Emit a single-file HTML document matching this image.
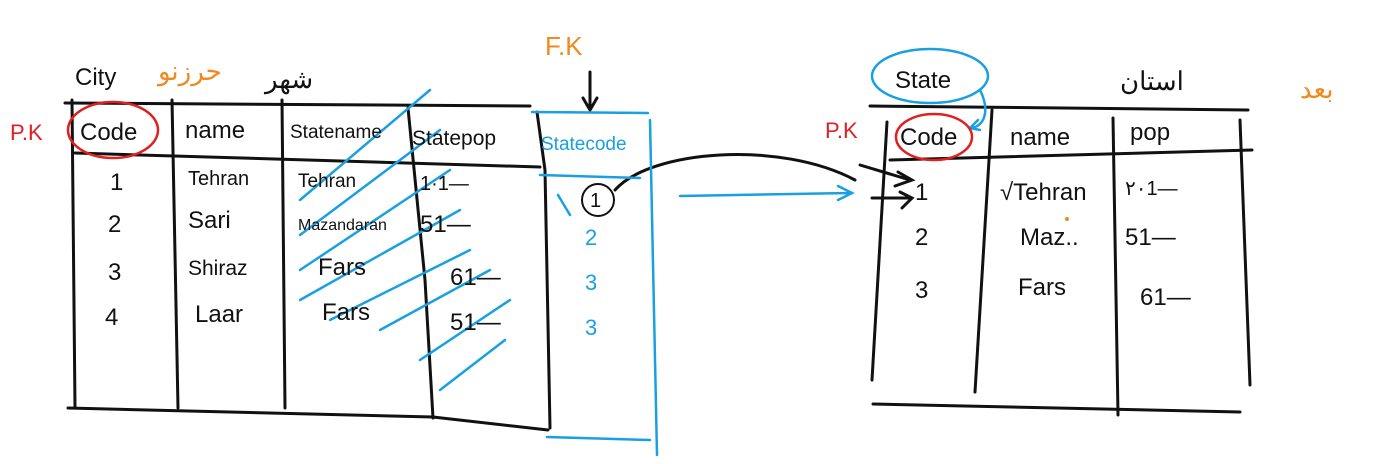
<!DOCTYPE html>
<html><head><meta charset="utf-8"><style>
html,body{margin:0;padding:0;background:#fff;width:1383px;height:464px;overflow:hidden}
svg text{font-family:"Liberation Sans","Noto Sans CJK SC",sans-serif}
</style></head><body>
<svg width="1383" height="464" viewBox="0 0 1383 464" xmlns="http://www.w3.org/2000/svg">
<g stroke="#111" stroke-width="3" fill="none" stroke-linecap="round">
<!-- left table -->
<path d="M65 103 L530 106"/>
<path d="M72 100 L75 408"/>
<path d="M172 100 L178 408"/>
<path d="M282 100 L285 408"/>
<path d="M408 108 L425 280 L433 418"/>
<path d="M537 112 L545 170 L550 428"/>
<path d="M75 153 L540 167"/>
<path d="M68 408 L433 417 L548 430"/>
<!-- right table -->
<path d="M870 106 L1248 110"/>
<path d="M887 122 L872 380"/>
<path d="M992 110 L975 392"/>
<path d="M1113 118 L1118 415"/>
<path d="M1240 120 L1250 385"/>
<path d="M890 160 L1252 150"/>
<path d="M873 404 L1240 412"/>
<!-- arrow down FK -->
<path d="M590 72 L590 108 M583 98 L590 110 L597 98"/>
<!-- connector curve -->
<path d="M615 190 C650 150 780 140 855 180"/>
<path d="M860 165 L910 180 M898 172 L912 180 L895 186"/>
<path d="M872 198 L910 198 M900 192 L912 198 L902 208"/>
</g>
<g stroke="#1aa0e0" stroke-width="2.5" fill="none" stroke-linecap="round">
<path d="M532 112 L648 113 M650 120 L657 455 M540 175 L640 178 M547 437 L650 440"/>
<path d="M558 195 L570 215"/>
<path d="M680 196 L850 193 M838 186 L852 193 L838 200"/>
<path d="M300 200 L430 90 M300 235 L440 130 M300 270 L450 170 M300 300 L460 210 M330 320 L470 250 M380 330 L490 270 M420 360 L510 300 M440 390 L505 340"/>
<ellipse cx="930" cy="76" rx="58" ry="27"/>
<path d="M980 90 C990 110 985 125 972 128 M978 120 L970 128 L980 130"/>
</g>
<g stroke="#e02020" stroke-width="2.5" fill="none">
<ellipse cx="113" cy="130" rx="45" ry="28"/>
<ellipse cx="934" cy="137" rx="38" ry="23"/>
</g>
<g stroke="#111" stroke-width="2" fill="none"><circle cx="598" cy="200" r="16"/></g>
<g font-size="24" fill="#111">
<text x="75" y="85">City</text>
<text x="265" y="88" font-size="26">شهر</text>
<text x="80" y="140">Code</text><text x="185" y="138">name</text>
<text x="290" y="138" font-size="19">Statename</text><text x="412" y="145" font-size="21">Statepop</text>
<text x="110" y="190">1</text><text x="188" y="185" font-size="20">Tehran</text><text x="298" y="187" font-size="19">Tehran</text><text x="420" y="190" font-size="20">1·1—</text>
<text x="108" y="232">2</text><text x="188" y="228">Sari</text><text x="298" y="230" font-size="16">Mazandaran</text><text x="420" y="232">51—</text>
<text x="108" y="280">3</text><text x="188" y="275" font-size="21">Shiraz</text><text x="318" y="275">Fars</text><text x="450" y="285">61—</text>
<text x="105" y="325">4</text><text x="195" y="322">Laar</text><text x="322" y="320">Fars</text><text x="450" y="330">51—</text>
<text x="590" y="207" font-size="20">1</text>
<text x="895" y="88">State</text>
<text x="1120" y="90" font-size="26">استان</text>
<text x="900" y="145">Code</text><text x="1010" y="145">name</text><text x="1130" y="140">pop</text>
<text x="915" y="200">1</text><text x="1000" y="200">√Tehran</text><text x="1125" y="195" font-size="20">۲۰1—</text>
<text x="915" y="245">2</text><text x="1020" y="245">Maz..</text><text x="1125" y="245">51—</text>
<text x="915" y="298">3</text><text x="1018" y="295">Fars</text><text x="1140" y="305">61—</text>
</g>
<g font-size="22" fill="#1aa0e0">
<text x="541" y="150" font-size="19">Statecode</text>
<text x="585" y="245">2</text><text x="585" y="290">3</text><text x="585" y="335">3</text>
</g>
<g fill="#f08a20" font-size="26">
<text x="158" y="80">حرزنو</text>
<text x="545" y="55">F.K</text>
<text x="1300" y="98">بعد</text>
<circle cx="1067" cy="219" r="2"/>
</g>
<g fill="#e02020" font-size="22">
<text x="10" y="140">P.K</text>
<text x="825" y="138">P.K</text>
</g>
</svg>
</body></html>
